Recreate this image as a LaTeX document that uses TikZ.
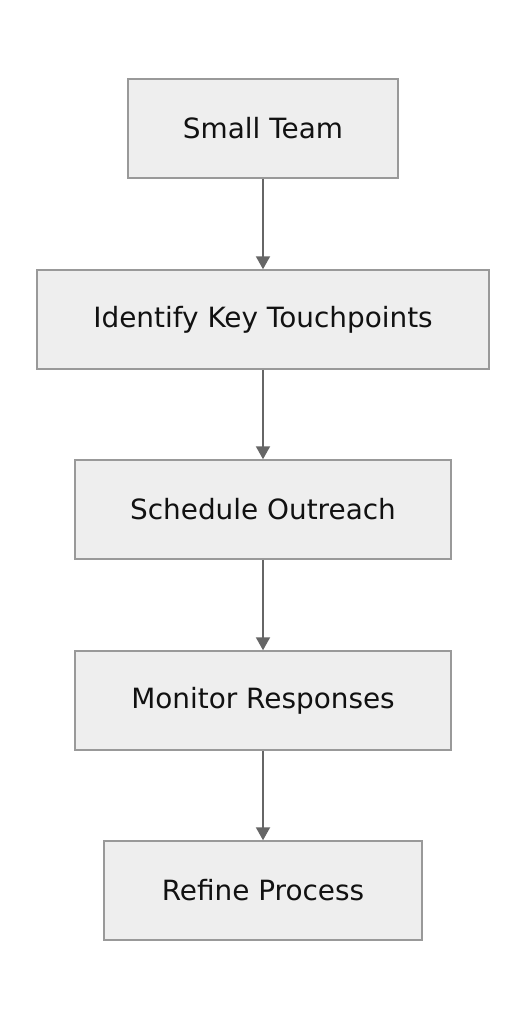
\documentclass[tikz,border=0pt]{standalone}
\usepackage{fontspec}
\setmainfont{DejaVu Sans}
\usetikzlibrary{arrows.meta}
\definecolor{boxfill}{HTML}{EEEEEE}
\definecolor{boxline}{HTML}{999999}
\definecolor{arrowcol}{HTML}{666666}
\definecolor{textcol}{HTML}{111111}
\tikzset{
  flowbox/.style={draw=boxline, fill=boxfill, line width=1.5bp, minimum height=99bp, inner sep=0pt, text=textcol, font=\fontsize{28}{32}\selectfont},
  flowarrow/.style={draw=arrowcol, line width=2bp, -{Triangle[length=13bp,width=14bp]}}
}
\begin{document}
\begin{tikzpicture}[x=1bp,y=-1bp]
\useasboundingbox (0,0) rectangle (526,1020);
\node[flowbox, minimum width=270bp] (a) at (263,128.5) {Small Team};
\node[flowbox, minimum width=452bp] (b) at (263,319.5) {Identify Key Touchpoints};
\node[flowbox, minimum width=376bp] (c) at (263,509.5) {Schedule Outreach};
\node[flowbox, minimum width=376bp] (d) at (263,700.5) {Monitor Responses};
\node[flowbox, minimum width=318bp] (e) at (263,890.5) {Refine Process};
\draw[flowarrow] (a) -- (b);
\draw[flowarrow] (b) -- (c);
\draw[flowarrow] (c) -- (d);
\draw[flowarrow] (d) -- (e);
\end{tikzpicture}
\end{document}
